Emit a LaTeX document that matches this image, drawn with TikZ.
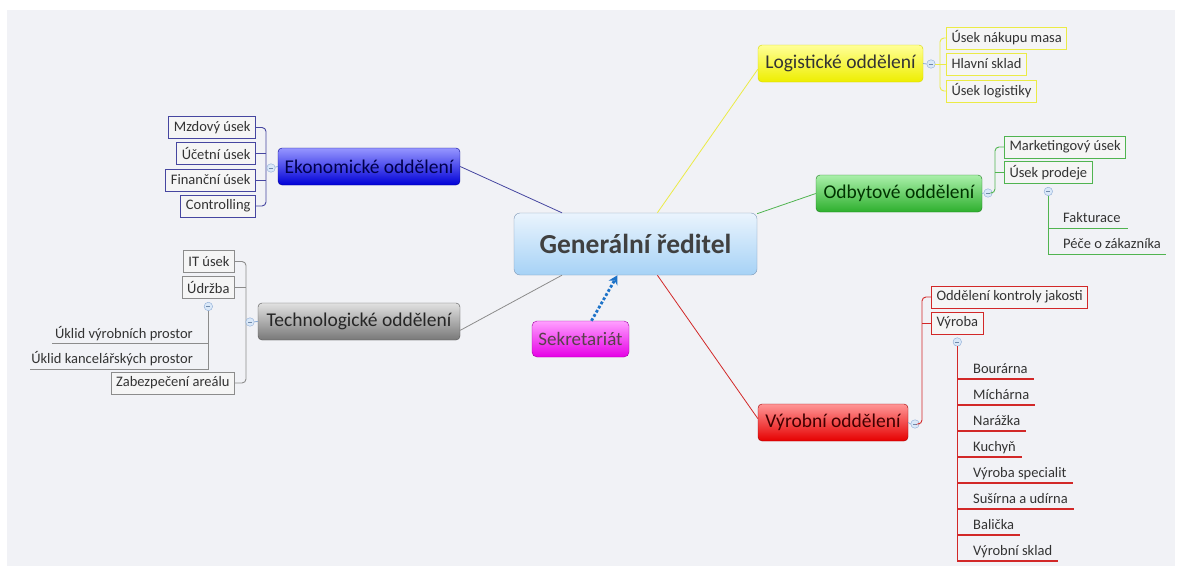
\documentclass[tikz,border=0pt]{standalone}
\usepackage{fontspec}
\setmainfont{Carlito}
\usepackage{xcolor}
\usepackage{tikz}
\usetikzlibrary{arrows.meta, positioning}
\definecolor{canvasgray}{RGB}{241,242,246}
\definecolor{boardtop}{RGB}{234,244,253}
\definecolor{boardbot}{RGB}{166,210,246}
\definecolor{boarddraw}{RGB}{125,150,180}
\definecolor{secrtop}{RGB}{255,160,255}
\definecolor{secrbot}{RGB}{230,0,230}
\definecolor{ecotop}{RGB}{150,150,255}
\definecolor{ecobot}{RGB}{0,0,215}
\definecolor{ecoline}{RGB}{70,70,160}
\definecolor{techtop}{RGB}{225,225,225}
\definecolor{techbot}{RGB}{120,120,120}
\definecolor{techline}{RGB}{140,140,140}
\definecolor{logtop}{RGB}{255,255,150}
\definecolor{logbot}{RGB}{238,238,0}
\definecolor{logline}{RGB}{235,235,70}
\definecolor{saletop}{RGB}{170,240,170}
\definecolor{salebot}{RGB}{45,175,45}
\definecolor{saleline}{RGB}{80,180,80}
\definecolor{prodtop}{RGB}{255,150,150}
\definecolor{prodbot}{RGB}{230,0,0}
\definecolor{prodline}{RGB}{210,40,40}
\definecolor{foldfill}{RGB}{218,232,248}
\definecolor{folddraw}{RGB}{140,172,214}
\definecolor{secrarrow}{RGB}{30,115,200}

\begin{document}
\begin{tikzpicture}[x=1pt, y=-1pt,
  every node/.style={font=\fontsize{14.5}{16}\selectfont, text=black!80},
  dept/.style={rounded corners=4pt, minimum height=37pt, inner sep=0pt,
    font=\fontsize{19.5}{22}\selectfont},
  leaf/.style={draw, line width=1pt, fill=white!96!black, minimum height=22pt,
    inner xsep=5pt, inner ysep=0pt},
  subtext/.style={inner sep=0pt},
  fold/.style={circle, draw=folddraw, fill=foldfill, inner sep=0pt, minimum size=8.5pt,
    path picture={\draw[folddraw!80!black, line width=0.6pt]
      ([xshift=-2pt]path picture bounding box.center) -- ([xshift=2pt]path picture bounding box.center);}},
  link/.style={line width=0.9pt, rounded corners=4pt}]
  \useasboundingbox (0,0) rectangle (1178,570);
  \fill[white] (0,0) rectangle (1178,570);
  \fill[canvasgray] (7,10) rectangle (1175,566);

  % centre
  \node[draw=boarddraw, rounded corners=6pt, top color=boardtop, bottom color=boardbot,
    minimum width=243pt, minimum height=62pt, text=black!75,
    font=\fontsize{27.5}{30}\selectfont\bfseries] (boss) at (635.5,244) {Generální ředitel};
  \node[draw=secrbot!70!black, rounded corners=5pt, top color=secrtop, bottom color=secrbot,
    minimum width=97pt, minimum height=36pt, text=black!75!magenta,
    font=\fontsize{19}{21}\selectfont] (secr) at (580.5,339) {Sekretariát};
  \draw[secrarrow, line width=2.8pt, dotted, -{Stealth[length=9pt, width=10pt]}]
    (secr.59) -- (boss.240);

  % departments
  \node[dept, draw=ecobot!70!black, top color=ecotop, bottom color=ecobot,
    minimum width=182pt, text=blue!30!black] (eco) at (369,166.5) {Ekonomické oddělení};
  \node[dept, draw=techbot!70!black, top color=techtop, bottom color=techbot,
    minimum width=202pt, text=black!85] (tech) at (359,321.5) {Technologické oddělení};
  \node[dept, draw=logbot!90!black, top color=logtop, bottom color=logbot,
    minimum width=165pt, text=black!80] (logi) at (840.5,63.5) {Logistické oddělení};
  \node[dept, draw=salebot!70!black, top color=saletop, bottom color=salebot,
    minimum width=166pt, text=green!20!black] (sale) at (899,193.5) {Odbytové oddělení};
  \node[dept, draw=prodbot!70!black, top color=prodtop, bottom color=prodbot,
    minimum width=150pt, text=red!25!black] (prod) at (833,422.5) {Výrobní oddělení};

  \draw[ecoline, line width=0.8pt] (boss.157) -- (eco.east);
  \draw[techline, line width=0.8pt] (boss.203) -- (tech.355);
  \draw[logline, line width=0.8pt] (boss.55) -- (logi.184);
  \draw[saleline, line width=0.8pt] (boss.14.5) -- (sale.west);
  \draw[prodline, line width=0.8pt] (boss.305) -- (prod.177);

  % Ekonomicke oddeleni
  \node[leaf, draw=ecoline, anchor=east] (mzd) at (256,127.5) {Mzdový úsek};
  \node[leaf, draw=ecoline, anchor=east] (uct) at (256,153.5) {Účetní úsek};
  \node[leaf, draw=ecoline, anchor=east] (fin) at (256,180) {Finanční úsek};
  \node[leaf, draw=ecoline, anchor=east] (ctrl) at (256,206) {Controlling};
  \draw[ecoline, link] (mzd.east) -- ++(10,0) |- (ctrl.east);
  \draw[ecoline, link] (uct.east) -- ++(10,0);
  \draw[ecoline, link] (fin.east) -- ++(10,0);
  \node[fold] (ecof) at (271,168) {};
  \draw[folddraw, line width=0.8pt] (ecof) -- (eco.west);

  % Technologicke oddeleni
  \node[leaf, draw=techline, anchor=east] (it) at (235,261.5) {IT úsek};
  \node[leaf, draw=techline, anchor=east] (udr) at (235,287.5) {Údržba};
  \node[leaf, draw=techline, anchor=east] (zab) at (235,383) {Zabezpečení areálu};
  \draw[techline, link] (it.east) -- ++(11,0) |- (zab.east);
  \draw[techline, link] (udr.east) -- ++(11,0);
  \node[fold] (techf) at (250,322) {};
  \draw[folddraw, line width=0.8pt] (techf) -- (tech.west);
  \node[fold, below=3pt of udr] (udrf) {};
  \node[subtext, anchor=base east] (ukv) at (193,338) {Úklid výrobních prostor};
  \node[subtext, anchor=base east] (ukk) at (193,363) {Úklid kancelářských prostor};
  \coordinate (ukvend) at ([shift={(-3,5)}]ukv.base west);
  \coordinate (ukkend) at ([shift={(-1,6)}]ukk.base west);
  \draw[techline, line width=0.9pt] (udrf.south |- ukvend) -- (ukvend);
  \draw[techline, line width=0.9pt] (udrf.south) |- (ukkend);

  % Logisticke oddeleni
  \node[leaf, draw=logline, anchor=west] (masa) at (946,38) {Úsek nákupu masa};
  \node[leaf, draw=logline, anchor=west] (sklad) at (946,64) {Hlavní sklad};
  \node[leaf, draw=logline, anchor=west] (ulog) at (946,91) {Úsek logistiky};
  \draw[logline, link] (masa.west) -- ++(-6,0) |- (ulog.west);
  \draw[logline, link] (sklad.west) -- ++(-6,0);
  \node[fold] (logf) at (931,64) {};
  \draw[folddraw, line width=0.8pt] (logi.east) -- (logf.west);
  \draw[logline, line width=0.9pt] (logf.east) -- (sklad.west);

  % Odbytove oddeleni
  \node[leaf, draw=saleline, anchor=west] (mkt) at (1004,147) {Marketingový úsek};
  \node[leaf, draw=saleline, anchor=west] (upr) at (1004,172.5) {Úsek prodeje};
  \node[fold] (salef) at (988,193) {};
  \draw[saleline, link] (mkt.west) -- ++(-9,0) |- (salef.east);
  \draw[saleline, link] (upr.west) -- ++(-9,0);
  \draw[folddraw, line width=0.8pt] (sale.east) -- (salef.west);
  \node[fold, below=3pt of upr] (uprf) {};
  \node[subtext, anchor=base west] (fakt) at (1063,222) {Fakturace};
  \node[subtext, anchor=base west] (pece) at (1063,248) {Péče o zákazníka};
  \coordinate (faktend) at ([shift={(7,6)}]fakt.base east);
  \coordinate (peceend) at ([shift={(5,6)}]pece.base east);
  \draw[saleline, line width=0.9pt] (uprf.south |- faktend) -- (faktend);
  \draw[saleline, line width=0.9pt] (uprf.south) |- (peceend);

  % Vyrobni oddeleni
  \node[leaf, draw=prodline, anchor=west] (okj) at (931,297) {Oddělení kontroly jakosti};
  \node[leaf, draw=prodline, anchor=west] (vyb) at (931,323) {Výroba};
  \node[fold] (prodf) at (915,424) {};
  \draw[prodline, link] (okj.west) -- ++(-9,0) |- (prodf.east);
  \draw[prodline, link] (vyb.west) -- ++(-9,0);
  \draw[folddraw, line width=0.8pt] (prod.east) -- (prodf.west);
  \node[fold, below=3pt of vyb] (vybf) {};
  \foreach \shop [count=\i] in {Bourárna, Míchárna, Narážka, Kuchyň, Výroba specialit,
      Sušírna a udírna, Balička, Výrobní sklad} {
    \node[subtext, anchor=base west] (shop\i) at (973,{373+26*(\i-1)}) {\shop};
    \coordinate (shopend\i) at ([shift={(6,6)}]shop\i.base east);
    \draw[prodline, line width=1.5pt] (vybf.south |- shopend\i) -- (shopend\i);
  }
  \draw[prodline, line width=1.5pt] (vybf.south) -- (vybf.south |- shopend8);
\end{tikzpicture}
\end{document}
